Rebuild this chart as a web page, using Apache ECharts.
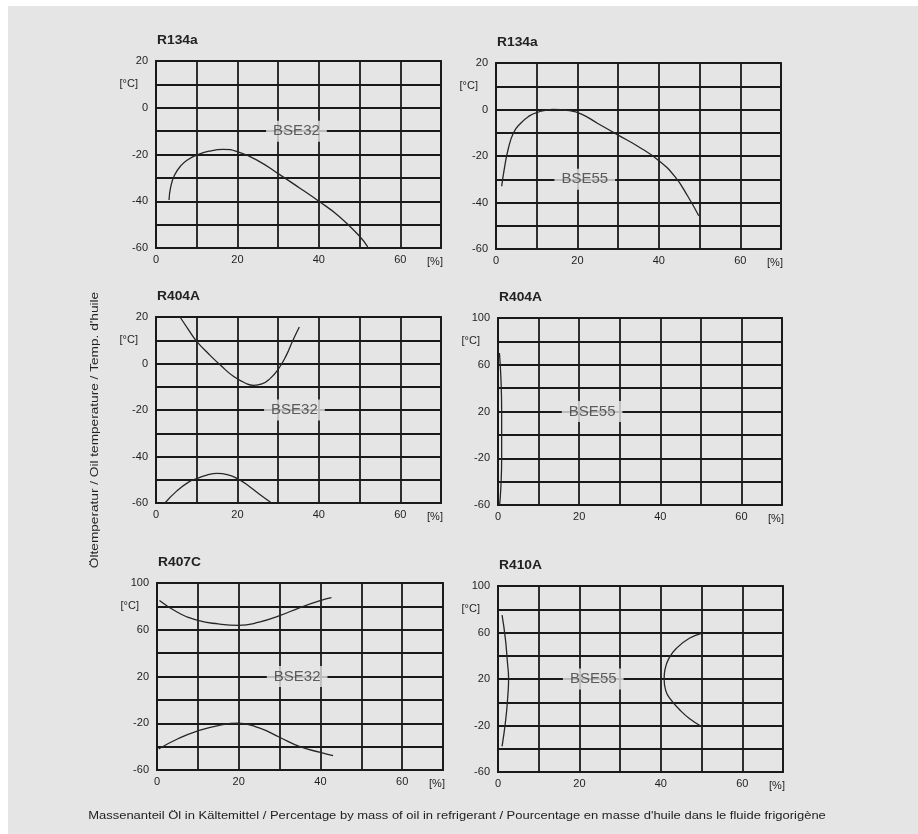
<!DOCTYPE html>
<html><head><meta charset="utf-8">
<script src="https://cdn.jsdelivr.net/npm/echarts@6/dist/echarts.min.js"></script>
<style>html,body{margin:0;padding:0;background:#fff;}#c{width:918px;height:834px;}</style>
</head><body><div id="c"></div>
<script>
// ---- data ----
const titles = ['R134a', 'R134a', 'R404A', 'R404A', 'R407C', 'R410A'];
const oilNames = ['BSE32', 'BSE55', 'BSE32', 'BSE55', 'BSE32', 'BSE55'];
const labelPos = [[34.5, -10], [21.8, -30], [34, -20], [23.2, 20], [34.3, 20], [23.4, 20]];
const yMin = [-60, -60, -60, -60, -60, -60];
const yMax = [20, 20, 20, 100, 100, 100];
const yStep = [10, 10, 10, 20, 20, 20];
const yUnitTick = [10, 10, 10, 80, 80, 80];
const xMin = 0, xMax = 70, xStep = 10;
const xTickLabels = {0: '0', 20: '20', 40: '40', 60: '60', 70: '{u|[%]}'};
const yUnitLabel = '{u|[°C]}';
const yAxisTitle = "Öltemperatur / Oil temperature / Temp. d'huile";
const xAxisTitle = "Massenanteil Öl in Kältemittel / Percentage by mass of oil in refrigerant / Pourcentage en masse d'huile dans le fluide frigorigène";

const r134aBse32 = [[3.2,-39.5],[3.6,-34],[4.5,-29],[6,-25],[8,-22],[10,-20.2],[13,-18.6],[16.5,-17.8],[20,-18.8],[25,-22.6],[30,-28.2],[35,-34],[40,-40],[45,-46.5],[50,-55],[52,-59.5]];
const r134aBse55 = [[1.4,-33],[2,-26],[3,-17],[4.3,-10],[6,-6],[8,-3],[10,-1.3],[14,0],[18,-0.5],[21,-2],[25,-6],[30,-11],[35,-16],[40,-22],[44,-29],[47,-37],[49.8,-45.7]];
const r404aBse32Upper = [[5.9,20],[8,14.5],[10,9.5],[13,4],[16,-1],[19,-5.5],[22,-8.5],[24,-9.4],[26,-8.8],[28,-6.5],[30,-2.5],[32,3.5],[33.5,9.5],[35.2,15.7]];
const r404aBse32Lower = [[2.2,-60],[5,-55],[8,-51],[10,-49.5],[12.5,-48],[15,-47.3],[17.5,-47.8],[20,-49.5],[23,-53],[26,-57],[28.4,-60]];
const r404aBse55 = [[0.35,70],[0.7,50],[0.9,20],[0.9,-20],[0.7,-45],[0.4,-60]];
const r407cBse32Upper = [[0.6,85],[5,75],[10,68],[15,65],[20,63.8],[25,66.5],[30,72],[35,79],[40,85],[42.7,87.5]];
const r407cBse32Lower = [[0.4,-42],[5,-33.5],[10,-26.5],[15,-22],[20,-20],[25,-24],[30,-32],[35,-40],[40,-45],[43.1,-47.7]];
const r410aBse55Left = [[1.0,75],[1.8,55],[2.3,35],[2.6,20],[2.4,5],[1.9,-15],[1.0,-38]];
const r410aBse55Right = [[50,59.3],[47,55],[44,47],[42,38],[41,28],[40.8,20],[41.2,10],[42.5,2],[44.5,-6],[47,-14],[50,-20.9]];

const curves = [
  {panel: 0, data: r134aBse32},
  {panel: 1, data: r134aBse55},
  {panel: 2, data: r404aBse32Upper},
  {panel: 2, data: r404aBse32Lower},
  {panel: 3, data: r404aBse55},
  {panel: 4, data: r407cBse32Upper},
  {panel: 4, data: r407cBse32Lower},
  {panel: 5, data: r410aBse55Left},
  {panel: 5, data: r410aBse55Right}
];

// ---- layout ----
const gridBoxes = [
  {left: 156, top: 61, width: 285, height: 187},
  {left: 496, top: 63, width: 285, height: 186},
  {left: 156, top: 317, width: 285, height: 186},
  {left: 498, top: 318, width: 284, height: 187},
  {left: 157, top: 583, width: 286, height: 187},
  {left: 498, top: 586, width: 285, height: 186}
];
const BG = '#e5e5e5';
const INK = '#1a1a1a';
const FONT = 'Liberation Sans, Arial, sans-serif';
const LW = 1.8;
const TICK_FS = 11;

const chart = echarts.init(document.getElementById('c'), null, {renderer: 'canvas'});
const grid = [], xAxis = [], yAxis = [], series = [], graphic = [];
graphic.push({type: 'rect', left: 8, top: 6, shape: {width: 910, height: 828}, style: {fill: BG}, z: -10, silent: true});
gridBoxes.forEach((b, i) => {
  grid.push(Object.assign({show: true, borderColor: INK, borderWidth: LW, backgroundColor: 'transparent'}, b));
  xAxis.push({
    type: 'value', gridIndex: i, min: xMin, max: xMax, interval: xStep,
    axisLine: {show: true, onZero: false, lineStyle: {color: INK, width: LW}},
    axisTick: {show: false},
    splitLine: {show: true, lineStyle: {color: INK, width: LW}},
    axisLabel: {margin: 6, fontSize: TICK_FS, color: '#1e1e1e', fontFamily: FONT,
      rich: {u: {fontSize: TICK_FS, color: '#1e1e1e', fontFamily: FONT, padding: [2, 12, 0, 0]}},
      formatter: v => (xTickLabels[v] !== undefined ? xTickLabels[v] : '')}
  });
  const mn = yMin[i], st = yStep[i], ut = yUnitTick[i];
  yAxis.push({
    type: 'value', gridIndex: i, min: mn, max: yMax[i], interval: st,
    axisLine: {show: true, onZero: false, lineStyle: {color: INK, width: LW}},
    axisTick: {show: false},
    splitLine: {show: true, lineStyle: {color: INK, width: LW}},
    axisLabel: {margin: 8, fontSize: TICK_FS, color: '#1e1e1e', fontFamily: FONT,
      rich: {u: {fontSize: TICK_FS, color: '#1e1e1e', fontFamily: FONT, padding: [0, 10, 0, 0]}},
      formatter: v => (v === ut ? yUnitLabel : (((v - mn) % (2 * st)) === 0 ? String(v) : ''))}
  });
  graphic.push({type: 'text', x: b.left + 1, y: b.top - 20, scaleX: 1.15, silent: true,
    style: {text: titles[i], fontSize: 12, fontWeight: 'bold', fill: '#222', fontFamily: FONT, verticalAlign: 'middle'}});
  series.push({
    type: 'scatter', xAxisIndex: i, yAxisIndex: i, symbolSize: 1, silent: true, z: 5,
    itemStyle: {color: 'rgba(0,0,0,0)'},
    data: [{value: labelPos[i], name: oilNames[i]}],
    label: {show: true, position: 'inside', formatter: '{b}', backgroundColor: BG,
      padding: [3, 7, 3, 7], fontSize: 15, color: '#3a3a3a', fontFamily: FONT}
  });
});
curves.forEach(c => {
  series.push({
    type: 'line', xAxisIndex: c.panel, yAxisIndex: c.panel, data: c.data,
    smooth: 0.5, showSymbol: false, silent: true, z: 3,
    lineStyle: {color: '#262626', width: 1.3}
  });
});
graphic.push({type: 'text', x: 95, y: 430, rotation: Math.PI / 2, scaleX: 1.24, silent: true,
  style: {text: yAxisTitle, fontSize: 11, fill: '#222', fontFamily: FONT, align: 'center', verticalAlign: 'middle'}});
graphic.push({type: 'text', x: 457, y: 816, scaleX: 1.18, silent: true,
  style: {text: xAxisTitle, fontSize: 11, fill: '#222', fontFamily: FONT, align: 'center', verticalAlign: 'middle'}});

chart.setOption({
  animation: false,
  backgroundColor: '#ffffff',
  grid: grid, xAxis: xAxis, yAxis: yAxis, series: series,
  graphic: graphic
});
</script></body></html>
